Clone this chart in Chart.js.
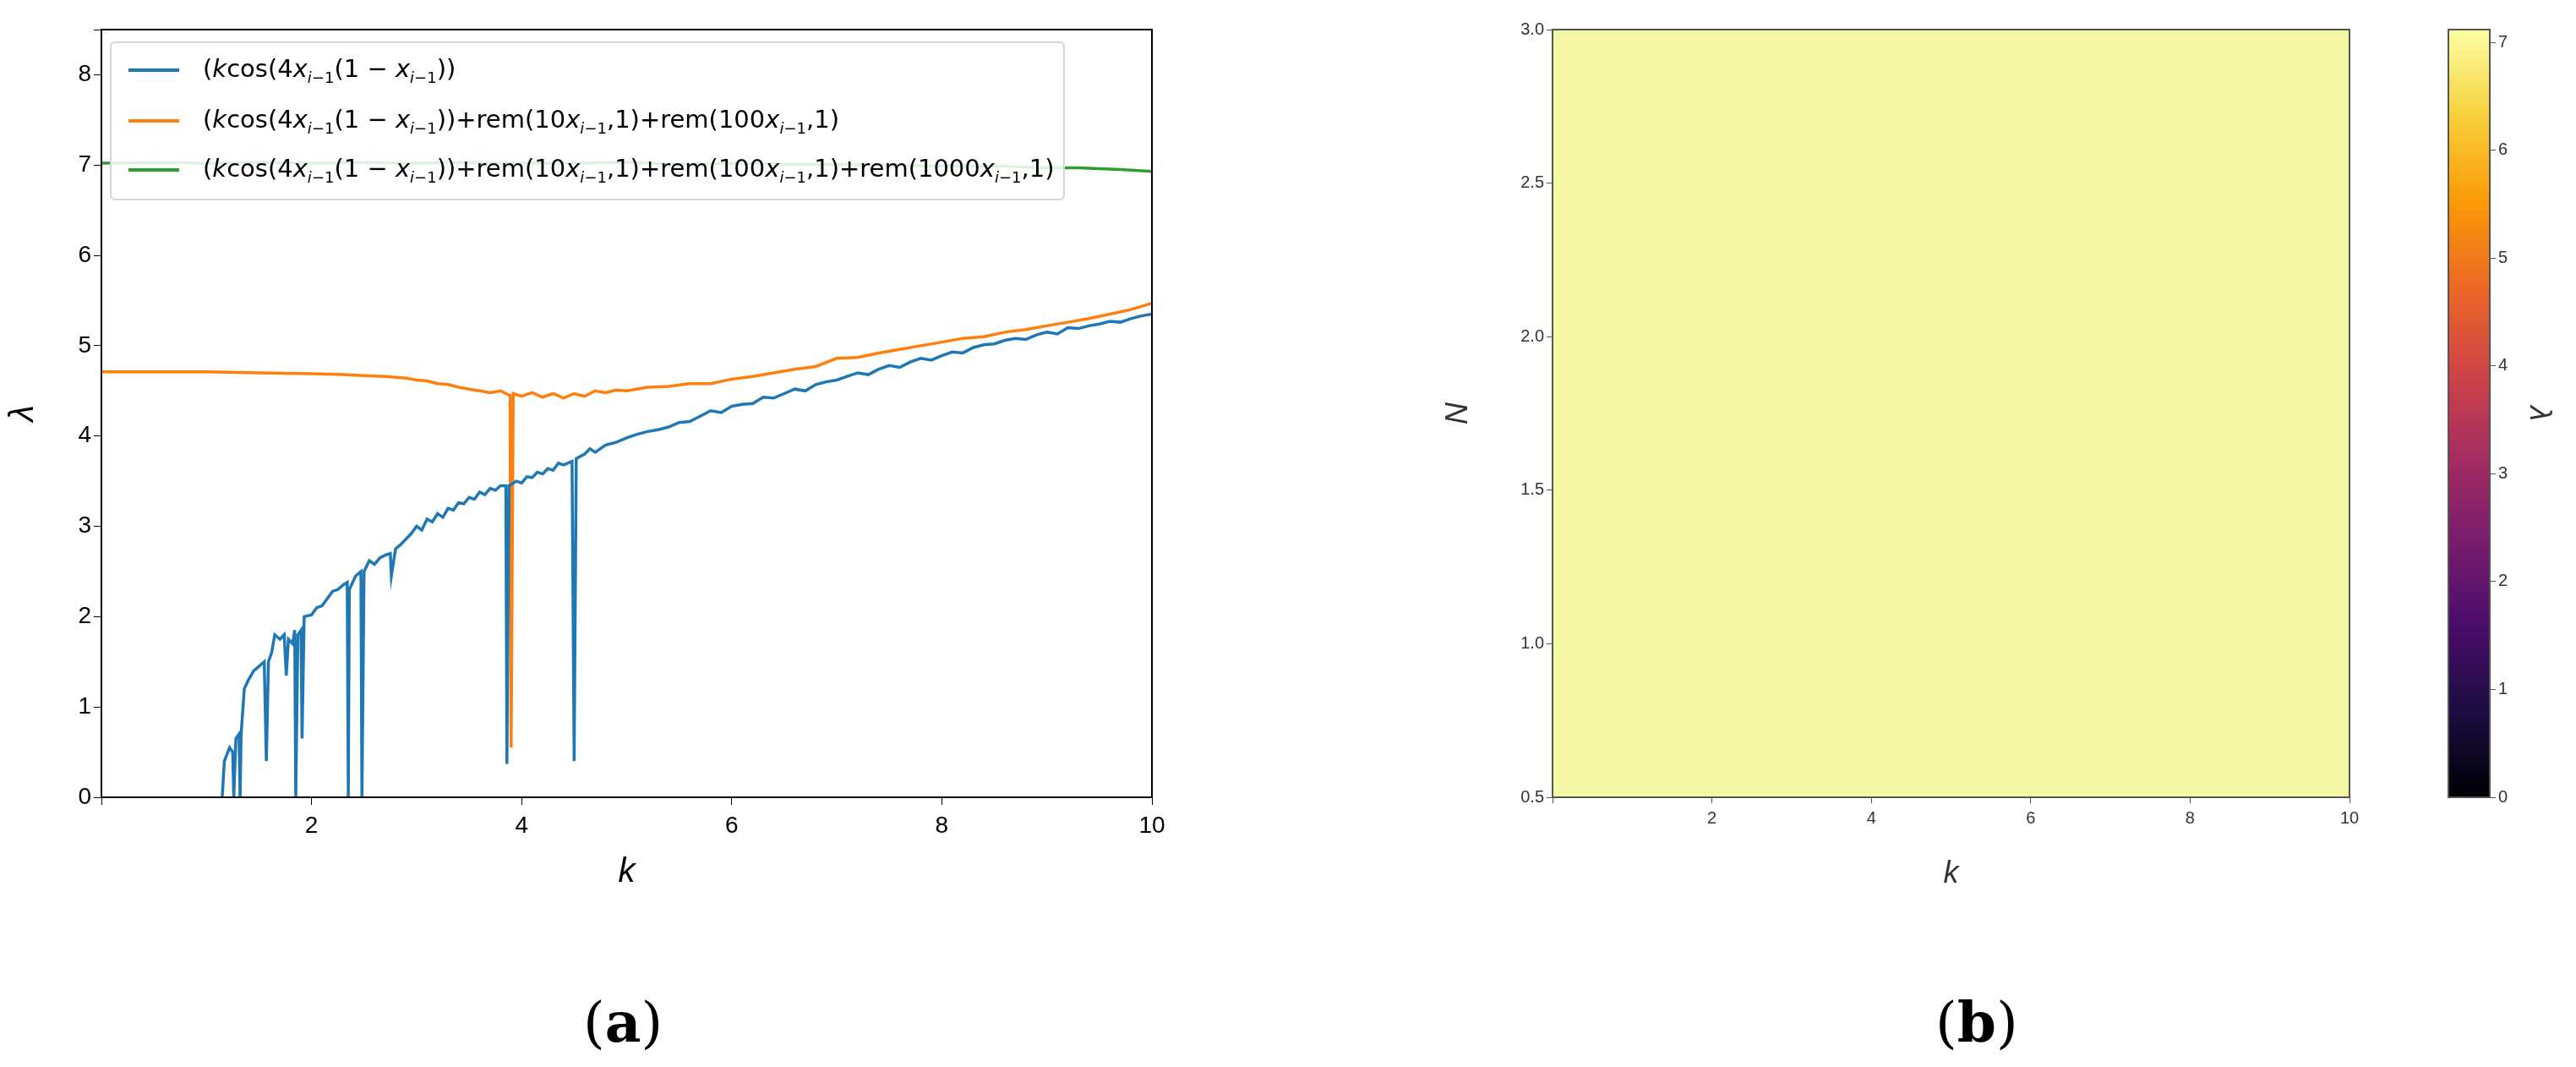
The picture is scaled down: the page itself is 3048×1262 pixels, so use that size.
<!DOCTYPE html>
<html><head><meta charset="utf-8">
<script src="https://cdn.jsdelivr.net/npm/chart.js@4.4.1/dist/chart.umd.min.js"></script>
<style>
body{margin:0;width:3048px;height:1262px;background:#fff;position:relative;font-family:"DejaVu Sans";overflow:hidden}
.box{position:absolute}
#legend{position:absolute;left:130px;top:49px;width:1126px;height:184px;border:2px solid #d6d6d6;border-radius:6px;background:rgba(255,255,255,.85);font-size:29px;font-family:"DejaVu Sans"}
#legend div{position:absolute;left:20px;height:40px;line-height:40px}
#legend span.l{display:inline-block;width:60px;height:4px;vertical-align:middle;margin-right:28px}
sub{font-size:18px}
.cap{position:absolute;font-family:"DejaVu Serif";font-size:66px;top:1170px}
</style></head><body>
<div class="box" style="left:0;top:0;width:1390px;height:1060px"><canvas id="a"></canvas></div>
<div id="legend">
<div style="top:10px"><span class="l" style="background:#1f77b4"></span>(<i>k</i>cos(4<i>x</i><sub><i>i</i>−1</sub>(1 − <i>x</i><sub><i>i</i>−1</sub>))</div>
<div style="top:70px"><span class="l" style="background:#ff7f0e"></span>(<i>k</i>cos(4<i>x</i><sub><i>i</i>−1</sub>(1 − <i>x</i><sub><i>i</i>−1</sub>))+rem(10<i>x</i><sub><i>i</i>−1</sub>,1)+rem(100<i>x</i><sub><i>i</i>−1</sub>,1)</div>
<div style="top:128px"><span class="l" style="background:#2ca02c"></span>(<i>k</i>cos(4<i>x</i><sub><i>i</i>−1</sub>(1 − <i>x</i><sub><i>i</i>−1</sub>))+rem(10<i>x</i><sub><i>i</i>−1</sub>,1)+rem(100<i>x</i><sub><i>i</i>−1</sub>,1)+rem(1000<i>x</i><sub><i>i</i>−1</sub>,1)</div>
</div>
<div class="box" style="left:1700px;top:0;width:1110px;height:1060px"><canvas id="b"></canvas></div>
<div class="box" style="left:2860px;top:0;width:170px;height:1060px"><canvas id="c"></canvas></div>
<div class="cap" style="left:690px">(<b>a</b>)</div>
<div class="cap" style="left:2290px">(<b>b</b>)</div>
<script>
// panel (a) data
var blueK = [1.15,1.17,1.22,1.25,1.26,1.28,1.31,1.32,1.33,1.36,1.4,1.45,1.5,1.55,1.57,1.59,1.62,1.65,1.7,1.74,1.76,1.78,1.82,1.84,1.85,1.87,1.9,1.91,1.93,2.0,2.05,2.1,2.15,2.2,2.25,2.3,2.34,2.35,2.36,2.42,2.47,2.48,2.5,2.55,2.6,2.65,2.7,2.75,2.76,2.8,2.85,2.9,2.95,3.0,3.05,3.1,3.15,3.2,3.25,3.3,3.35,3.4,3.45,3.5,3.55,3.6,3.65,3.7,3.75,3.8,3.85,3.86,3.88,3.95,4.0,4.05,4.1,4.15,4.2,4.25,4.3,4.35,4.4,4.48,4.5,4.52,4.6,4.65,4.7,4.8,4.9,5.0,5.1,5.2,5.3,5.4,5.5,5.6,5.7,5.8,5.9,6.0,6.1,6.2,6.3,6.4,6.5,6.6,6.7,6.8,6.9,7.0,7.1,7.2,7.3,7.4,7.5,7.6,7.7,7.8,7.9,8.0,8.1,8.2,8.3,8.4,8.5,8.6,8.7,8.8,8.9,9.0,9.1,9.2,9.3,9.4,9.5,9.6,9.7,9.8,9.9,10];
var blueL = [0,0.4,0.55,0.5,0,0.65,0.7,0,0.7,1.2,1.3,1.4,1.45,1.5,0.4,1.5,1.6,1.8,1.75,1.8,1.35,1.75,1.7,1.85,0,1.8,1.85,0.65,2.0,2.02,2.1,2.12,2.2,2.28,2.3,2.35,2.38,0,2.3,2.45,2.5,0,2.5,2.62,2.58,2.65,2.68,2.7,2.45,2.75,2.8,2.86,2.92,3.0,2.96,3.08,3.05,3.14,3.1,3.2,3.18,3.26,3.25,3.32,3.3,3.38,3.35,3.42,3.4,3.45,3.45,0.37,3.45,3.5,3.48,3.55,3.54,3.6,3.58,3.64,3.62,3.7,3.68,3.72,0.4,3.75,3.8,3.86,3.82,3.9,3.93,3.98,4.02,4.05,4.07,4.1,4.15,4.16,4.22,4.28,4.26,4.33,4.35,4.36,4.43,4.42,4.47,4.52,4.5,4.57,4.6,4.62,4.66,4.7,4.68,4.74,4.78,4.76,4.82,4.86,4.84,4.89,4.93,4.92,4.98,5.01,5.02,5.06,5.08,5.07,5.12,5.15,5.13,5.2,5.19,5.22,5.24,5.27,5.26,5.3,5.33,5.35];
var orangeK = [0,0.5,1,1.5,2,2.3,2.5,2.7,2.9,3.0,3.1,3.2,3.3,3.4,3.5,3.6,3.7,3.8,3.85,3.89,3.9,3.92,4.0,4.1,4.2,4.3,4.4,4.5,4.6,4.7,4.8,4.9,5.0,5.2,5.4,5.6,5.8,6.0,6.2,6.4,6.6,6.8,7.0,7.2,7.4,7.6,7.8,8.0,8.2,8.4,8.6,8.8,9.0,9.2,9.4,9.6,9.8,10];
var orangeL = [4.71,4.71,4.71,4.7,4.69,4.68,4.67,4.66,4.64,4.62,4.61,4.58,4.57,4.54,4.52,4.5,4.48,4.5,4.47,4.45,0.55,4.47,4.44,4.48,4.43,4.47,4.42,4.47,4.44,4.5,4.48,4.51,4.5,4.54,4.55,4.58,4.58,4.63,4.66,4.7,4.74,4.77,4.86,4.87,4.92,4.96,5.0,5.04,5.08,5.1,5.15,5.18,5.22,5.26,5.3,5.35,5.4,5.47];
var greenK = [0,0.5,1,1.5,2,2.5,3,3.5,4,4.5,5,5.5,6,6.5,7,7.5,8,8.5,9,9.3,9.5,9.7,10];
var greenL = [7.02,7.03,7.02,7.03,7.02,7.03,7.02,7.03,7.02,7.02,7.03,7.01,7.02,7.01,7.01,7.0,6.99,6.99,6.97,6.97,6.96,6.95,6.93];
// panel (b) data
var kRange = [0, 10];
var nRange = [0.5, 3.0];
var cbarMax = 7.12;
var cbarTicks = [0, 1, 2, 3, 4, 5, 6, 7];

function pts(xs, ys){ return xs.map(function(x,i){ return {x:x, y:ys[i]}; }); }

var frame = {
    id: 'frame',
    afterDraw: function(chart){
        var a = chart.chartArea, c = chart.ctx;
        c.save(); c.strokeStyle = chart.options.plugins.frame.color; c.lineWidth = 2;
        c.strokeRect(a.left, a.top, a.right - a.left, a.bottom - a.top); c.restore();
    }
};
Chart.register(frame);

function fixW(w){ return function(s){ s.width = w; }; }
function fixH(h){ return function(s){ s.height = h; }; }

new Chart(document.getElementById('a'), {
    type: 'line',
    data: {
        datasets: [
            {data: pts(blueK, blueL), borderColor: '#1f77b4'},
            {data: pts(orangeK, orangeL), borderColor: '#ff7f0e'},
            {data: pts(greenK, greenL), borderColor: '#2ca02c'}
        ]
    },
    options: {
        responsive: true, maintainAspectRatio: false, animation: false,
        elements: {point: {radius: 0}, line: {borderWidth: 3.5, tension: 0}},
        layout: {padding: {top: 35, right: 27}},
        plugins: {legend: {display: false}, tooltip: {enabled: false}, frame: {color: '#000'}},
        scales: {
            x: {type: 'linear', min: 0, max: 10, afterFit: fixH(117),
                ticks: {stepSize: 2, color: '#000', font: {size: 28}, padding: 8,
                        callback: function(v){ return v === 0 ? '' : v; }},
                grid: {drawOnChartArea: false, tickLength: 9, color: '#000'},
                border: {color: '#000'},
                title: {display: true, text: 'k', color: '#000', font: {size: 40, style: 'italic'}}},
            y: {min: 0, max: 8.5, afterFit: fixW(120),
                ticks: {stepSize: 1, color: '#000', font: {size: 28},
                        callback: function(v){ return Number.isInteger(v) ? v : ''; }},
                grid: {drawOnChartArea: false, tickLength: 9, color: '#000'},
                border: {color: '#000'},
                title: {display: true, text: 'λ', color: '#000', font: {size: 40, style: 'italic'}}}
        }
    }
});

new Chart(document.getElementById('b'), {
    type: 'line',
    data: {
        datasets: [{
            data: [{x: kRange[0], y: nRange[1]}, {x: kRange[1], y: nRange[1]}],
            fill: {value: nRange[0]}, backgroundColor: '#f4f7a3', borderWidth: 0, pointRadius: 0
        }]
    },
    options: {
        responsive: true, maintainAspectRatio: false, animation: false,
        layout: {padding: {top: 35, right: 30}},
        plugins: {legend: {display: false}, tooltip: {enabled: false}, frame: {color: '#555'}},
        scales: {
            x: {type: 'linear', min: kRange[0], max: kRange[1], afterFit: fixH(117),
                ticks: {stepSize: 2, color: '#333', font: {size: 20}, padding: 6,
                        callback: function(v){ return v === 0 ? '' : v; }},
                grid: {drawOnChartArea: false, tickLength: 7, color: '#555'},
                border: {color: '#555'},
                title: {display: true, text: 'k', color: '#333', font: {size: 36, style: 'italic'}}},
            y: {min: nRange[0], max: nRange[1], afterFit: fixW(137),
                ticks: {stepSize: 0.5, color: '#333', font: {size: 20},
                        callback: function(v){ return v.toFixed(1); }},
                grid: {drawOnChartArea: false, tickLength: 7, color: '#555'},
                border: {color: '#555'},
                title: {display: true, text: 'N', color: '#333', font: {size: 36, style: 'italic'}}}
        }
    }
});

var inferno = ['#000004','#1b0c41','#4a0c6b','#781c6d','#a52c60','#cf4446','#ed6925','#fb9b06','#f7d13d','#fcffa4'];
new Chart(document.getElementById('c'), {
    type: 'bar',
    data: {
        labels: [''],
        datasets: [{
            data: [[0, cbarMax]], barPercentage: 1, categoryPercentage: 1,
            backgroundColor: function(ctx){
                var a = ctx.chart.chartArea; if (!a) return '#fff';
                var g = ctx.chart.ctx.createLinearGradient(0, a.bottom, 0, a.top);
                inferno.forEach(function(c, i){ g.addColorStop(i / (inferno.length - 1), c); });
                return g;
            }
        }]
    },
    options: {
        responsive: true, maintainAspectRatio: false, animation: false,
        layout: {padding: {top: 35, bottom: 117, left: 37}},
        plugins: {legend: {display: false}, tooltip: {enabled: false}, frame: {color: '#555'}},
        scales: {
            x: {display: false},
            y: {position: 'right', min: 0, max: cbarMax, afterFit: fixW(84),
                afterBuildTicks: function(s){ s.ticks = cbarTicks.map(function(v){ return {value: v}; }); },
                ticks: {color: '#333', font: {size: 20}},
                grid: {drawOnChartArea: false, tickLength: 7, color: '#555'},
                border: {color: '#555'},
                title: {display: true, text: 'λ', color: '#333', font: {size: 36, style: 'italic'}}}
        }
    }
});
</script>
</body></html>
